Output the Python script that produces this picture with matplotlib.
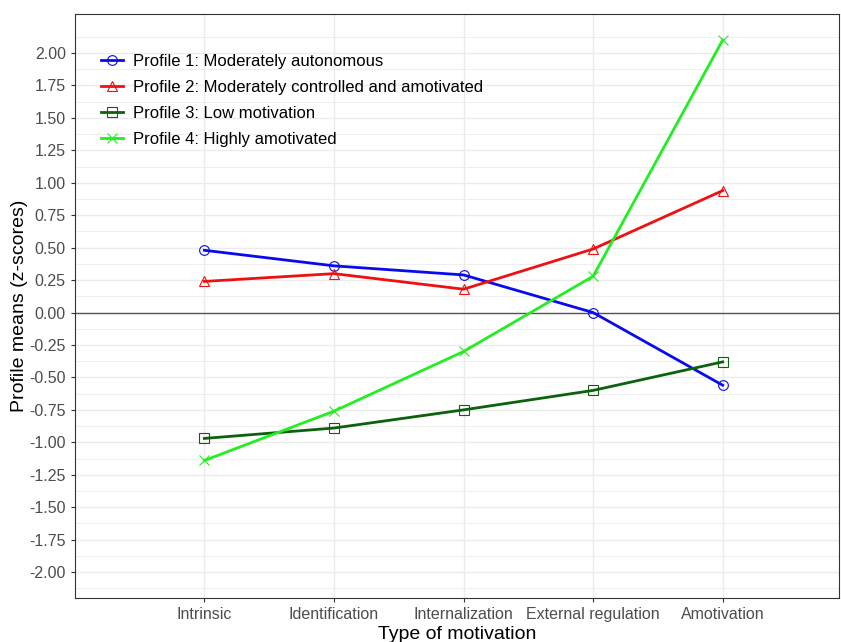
import matplotlib.pyplot as plt
import numpy as np

plt.rcParams['font.family'] = ['Liberation Sans', 'DejaVu Sans']

# categories and profile means (z-scores)
categories = ['Intrinsic', 'Identification', 'Internalization', 'External regulation', 'Amotivation']
profile1 = [0.48, 0.36, 0.29, 0.00, -0.56]
profile2 = [0.24, 0.30, 0.18, 0.49, 0.94]
profile3 = [-0.97, -0.89, -0.75, -0.60, -0.38]
profile4 = [-1.14, -0.76, -0.30, 0.28, 2.10]
labels = ['Profile 1: Moderately autonomous',
          'Profile 2: Moderately controlled and amotivated',
          'Profile 3: Low motivation',
          'Profile 4: Highly amotivated']

colors = ['#0a0aee', '#ee1111', '#0b620b', '#22ee22']
markers = ['o', '^', 's', 'x']

fig = plt.figure(figsize=(8.41, 6.42), dpi=100)
ax = fig.add_axes([0.089, 0.0685, 0.909, 0.9095])

x = np.arange(1, len(categories) + 1)
for vals, c, m, lab in zip([profile1, profile2, profile3, profile4], colors, markers, labels):
    ax.plot(x, vals, color=c, lw=2, marker=m, markersize=7,
            markerfacecolor='none', markeredgecolor=c, markeredgewidth=0.8,
            label=lab, zorder=3)

ax.axhline(0, color='#555555', lw=1, zorder=2)

ax.set_xlim(0.0, 5.9)
ax.set_ylim(-2.2, 2.3)
ax.set_xticks(x)
ax.set_xticklabels(categories)
yt = np.arange(-2.0, 2.01, 0.25)
ax.set_yticks(yt)
ax.set_yticklabels(['%.2f' % v for v in yt])
ax.set_yticks(np.arange(-2.125, 2.3, 0.25), minor=True)

ax.grid(True, which='major', color='#ebebeb', lw=1)
ax.grid(True, which='minor', axis='y', color='#ebebeb', lw=0.6)
ax.set_axisbelow(True)
ax.tick_params(axis='both', which='major', labelsize=11.5, labelcolor='#4d4d4d',
               color='#333333', length=3)
ax.tick_params(axis='both', which='minor', length=0)
for s in ax.spines.values():
    s.set_color('#333333')
    s.set_linewidth(0.8)

ax.set_xlabel('Type of motivation', fontsize=14, labelpad=3)
ax.set_ylabel('Profile means (z-scores)', fontsize=14, labelpad=1)

ax.legend(loc='upper left', bbox_to_anchor=(0.015, 0.957), frameon=False, fontsize=12,
          handlelength=1.3, handletextpad=0.6, labelspacing=0.65)

plt.savefig('out.png', dpi=100)
